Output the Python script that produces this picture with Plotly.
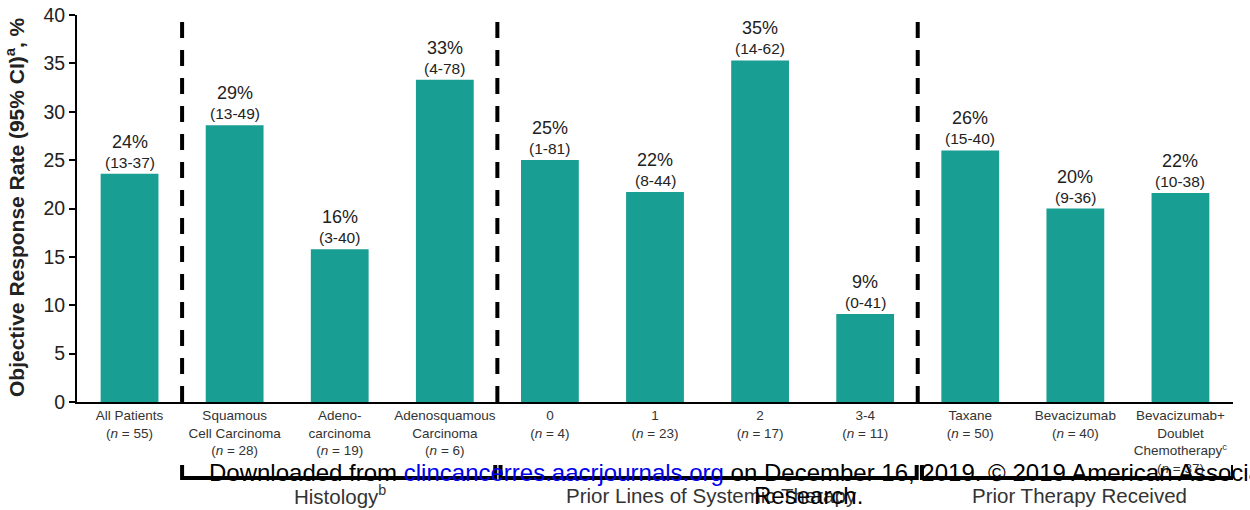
import plotly.graph_objects as go

categories = [
    "All Patients<br>(<i>n</i> = 55)",
    "Squamous<br>Cell Carcinoma<br>(<i>n</i> = 28)",
    "Adeno-<br>carcinoma<br>(<i>n</i> = 19)",
    "Adenosquamous<br>Carcinoma<br>(<i>n</i> = 6)",
    "0<br>(<i>n</i> = 4)",
    "1<br>(<i>n</i> = 23)",
    "2<br>(<i>n</i> = 17)",
    "3-4<br>(<i>n</i> = 11)",
    "Taxane<br>(<i>n</i> = 50)",
    "Bevacizumab<br>(<i>n</i> = 40)",
    "Bevacizumab+<br>Doublet<br>Chemotherapy<sup>c</sup><br>(<i>n</i> = 37)",
]
orr = [23.6, 28.6, 15.8, 33.3, 25.0, 21.7, 35.3, 9.1, 26.0, 20.0, 21.6]
pct_labels = ["24%", "29%", "16%", "33%", "25%", "22%", "35%", "9%", "26%", "20%", "22%"]
ci_labels = ["(13-37)", "(13-49)", "(3-40)", "(4-78)", "(1-81)", "(8-44)", "(14-62)",
             "(0-41)", "(15-40)", "(9-36)", "(10-38)"]
group_names = ["Histology<sup>b</sup>", "Prior Lines of Systemic Therapy", "Prior Therapy Received"]
group_spans = [(0.5, 3.48), (3.53, 7.49), (7.54, 10.5)]
separators = [0.5, 3.5, 7.5]

FONT = "Arial, Liberation Sans, sans-serif"
TEAL = "#199e94"
x = list(range(len(categories)))

fig = go.Figure()
fig.add_trace(go.Bar(x=x, y=orr, marker_color=TEAL, marker_line_width=0, width=0.55,
                     hoverinfo="skip"))

ann = []
for xi, v, p, c in zip(x, orr, pct_labels, ci_labels):
    ann.append(dict(x=xi, y=v, xref="x", yref="y", text=c, showarrow=False,
                    yanchor="bottom", yshift=1, font=dict(size=15.5, color="#222", family=FONT)))
    ann.append(dict(x=xi, y=v, xref="x", yref="y", text=p, showarrow=False,
                    yanchor="bottom", yshift=20, font=dict(size=18, color="#222", family=FONT)))

# page pixel geometry of the plot area: x 77..1233, y 15..402
def py(pix):
    return (402 - pix) / 387.0

def px(pix):
    return (pix - 77) / 1156.0

shapes = []
for s in separators:
    shapes.append(dict(type="line", xref="x", yref="paper", x0=s, x1=s, y0=0, y1=py(20),
                       line=dict(color="black", width=4, dash="16px,12px")))
for (a, b) in group_spans:
    shapes.append(dict(type="path", xref="x", yref="paper",
                       path=f"M {a},{py(465)} L {a},{py(478)} L {b},{py(478)} L {b},{py(465)}",
                       line=dict(color="black", width=4)))

group_centers_px = [340, 711, 1079]
for name, cx in zip(group_names, group_centers_px):
    ann.append(dict(x=px(cx), y=py(495), xref="paper", yref="paper", text=name, showarrow=False,
                    xanchor="center", yanchor="middle",
                    font=dict(size=20.5, color="#333", family=FONT)))

# y-axis title
ann.append(dict(x=px(15), y=py(207), xref="paper", yref="paper",
                text="<b>Objective Response Rate (95% CI)<sup>a</sup>, %</b>", textangle=-90,
                showarrow=False, xanchor="center", yanchor="middle",
                font=dict(size=21, color="#222", family=FONT)))

# watermark
ann.append(dict(x=px(207), y=py(472), xref="paper", yref="paper", xanchor="left",
                yanchor="middle", showarrow=False,
                text="Downloaded from <span style='color:#0000ee'>clincancerres.aacrjournals.org</span>"
                     " on December 16, 2019. © 2019 American Association for Cancer",
                font=dict(size=24, color="black", family=FONT)))
ann.append(dict(x=px(808), y=py(495), xref="paper", yref="paper", xanchor="center",
                yanchor="middle", showarrow=False, text="Research.",
                font=dict(size=24, color="black", family=FONT)))

fig.update_layout(
    width=1250, height=510,
    margin=dict(l=77, r=17, t=15, b=108, autoexpand=False),
    paper_bgcolor="white", plot_bgcolor="white",
    showlegend=False,
    annotations=ann, shapes=shapes,
    xaxis=dict(tickmode="array", tickvals=x, ticktext=categories, range=[-0.5, 10.5],
               showline=True, linecolor="black", linewidth=2, ticks="", showgrid=False,
               zeroline=False, tickfont=dict(size=13.5, color="#333", family=FONT),
               tickangle=0, automargin=False),
    yaxis=dict(range=[0, 40], tickvals=[0, 5, 10, 15, 20, 25, 30, 35, 40], showline=True,
               linecolor="black", linewidth=2, ticks="outside", ticklen=6, tickwidth=2,
               tickcolor="black", showgrid=False, zeroline=False,
               tickfont=dict(size=19.5, color="#222", family=FONT), automargin=False),
)

# remove the default 8px page margin so the figure fills the window exactly
fig.write_html("out.html", config={"displayModeBar": False},
               post_script="document.body.style.margin='0';")
